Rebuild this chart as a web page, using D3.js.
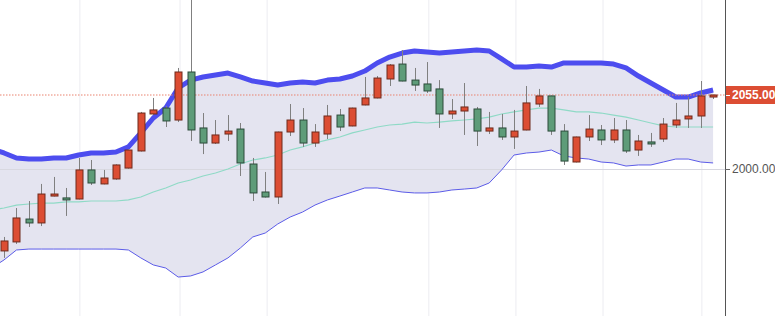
<!DOCTYPE html>
<html>
<head>
<meta charset="utf-8">
<script src="https://cdn.jsdelivr.net/npm/d3@7/dist/d3.min.js"></script>
<style>
html,body{margin:0;padding:0;background:#fff;overflow:hidden;}
svg{display:block;}
</style>
</head>
<body>
<svg id="chart" width="775" height="316"></svg>
<script>
// ---- data ----
const openV  = [1939.1,1945.8,1962.8,1959.9,1979.9,1978.5,1977.7,1999.3,1988.9,1992.6,2000.7,2013.4,2040.9,2045.3,2036.4,2072.1,2030.5,2019.3,2026.0,2029.7,2003.7,1982.9,1979.2,2027.5,2036.4,2019.3,2026.0,2040.1,2032.0,2047.6,2052.8,2066.9,2078.0,2066.1,2063.2,2059.5,2040.9,2043.1,2044.6,2028.2,2030.5,2023.8,2029.0,2048.3,2054.3,2028.2,2005.2,2023.8,2029.0,2021.6,2029.0,2014.1,2020.1,2022.3,2032.7,2037.2,2039.4,2053.5];
const highV  = [1949.5,1971.0,1976.2,1988.9,1994.1,1985.9,2008.2,2006.7,1999.3,2003.5,2014.5,2042.4,2052.8,2046.8,2075.1,2135.0,2041.6,2036.4,2040.1,2034.2,2008.2,1997.8,2027.8,2048.3,2045.3,2033.4,2047.6,2044.6,2045.6,2068.4,2069.1,2078.0,2088.4,2075.1,2079.5,2066.1,2052.0,2063.9,2046.1,2042.4,2040.9,2043.9,2061.7,2059.5,2054.6,2033.4,2024.1,2040.1,2032.7,2037.9,2036.4,2025.3,2026.8,2037.9,2049.1,2053.5,2065.4,2055.3];
const lowV   = [1933.9,1944.3,1956.9,1957.6,1979.6,1965.1,1977.4,1988.1,1988.6,1992.0,2000.3,2013.0,2040.1,2031.2,2034.9,2020.8,2011.1,2018.6,2020.8,1994.8,1976.2,1978.8,1974.0,2024.5,2016.4,2016.4,2022.3,2028.2,2031.7,2047.3,2052.5,2061.7,2065.1,2058.0,2056.5,2030.5,2037.2,2025.3,2017.1,2026.0,2021.6,2014.9,2028.7,2046.1,2025.3,2003.0,2004.9,2020.8,2017.8,2019.3,2011.9,2009.7,2016.4,2020.1,2030.5,2030.5,2030.5,2052.0];
const closeV = [1946.5,1963.6,1959.9,1981.4,1981.4,1977.0,1999.3,1989.6,1993.3,2003.0,2014.1,2041.6,2043.9,2035.7,2072.1,2029.0,2019.3,2025.3,2028.2,2004.5,1982.2,1979.2,2027.5,2036.4,2019.3,2027.5,2039.4,2031.2,2045.3,2052.8,2067.6,2077.3,2065.4,2062.4,2058.0,2040.9,2043.1,2046.1,2028.2,2030.5,2023.8,2028.2,2049.1,2054.3,2028.2,2005.9,2023.8,2029.7,2021.6,2029.0,2013.4,2020.8,2018.6,2033.4,2036.4,2039.4,2054.3,2055.0];

// Bollinger bands, first value belongs to the bar before the first visible candle
const bandUpper  = [2014.9,2011.9,2008.2,2007.4,2007.4,2008.2,2008.2,2010.4,2011.9,2011.9,2012.6,2016.4,2026.8,2037.9,2045.3,2060.2,2066.1,2068.4,2069.9,2071.3,2068.4,2065.4,2063.9,2062.4,2063.9,2064.7,2063.9,2066.1,2066.9,2069.1,2072.8,2078.8,2083.2,2086.2,2087.7,2087.0,2086.2,2087.0,2087.7,2088.4,2087.7,2081.8,2075.8,2075.8,2076.6,2075.8,2078.8,2078.8,2078.8,2078.8,2078.0,2075.1,2069.1,2063.9,2058.7,2053.5,2053.5,2056.5,2058.7];
const bandMiddle = [1969.5,1971.0,1973.2,1974.0,1974.7,1974.7,1975.5,1975.5,1976.2,1976.2,1976.2,1977.0,1979.2,1982.9,1985.9,1989.6,1991.8,1994.8,1997.0,2000.0,2003.7,2006.7,2008.2,2010.4,2014.1,2016.4,2019.3,2021.6,2023.8,2026.8,2029.0,2031.2,2032.7,2033.4,2034.9,2034.2,2034.9,2035.7,2036.4,2037.2,2038.6,2040.9,2042.4,2043.9,2045.3,2045.3,2043.9,2042.4,2042.4,2041.6,2040.1,2038.6,2036.4,2034.2,2032.0,2031.2,2031.2,2031.2,2031.2];
const bandLower  = [1926.4,1932.4,1939.8,1940.5,1940.5,1940.5,1940.5,1940.5,1940.5,1940.5,1940.5,1939.8,1933.9,1928.7,1926.4,1919.7,1920.5,1923.5,1928.7,1933.9,1941.3,1949.5,1952.4,1959.1,1964.3,1968.0,1973.2,1977.0,1979.9,1982.9,1985.9,1985.9,1984.4,1982.9,1982.2,1982.2,1982.9,1984.4,1985.1,1985.9,1989.6,1999.3,2010.4,2011.9,2012.6,2014.1,2009.7,2008.2,2007.4,2005.2,2004.5,2002.2,2003.0,2003.0,2005.2,2007.4,2007.4,2005.2,2004.5];

const yTicks = [2000];
const lastPrice = 2055;
const gridTicks = [6.1, 14.15, 21.15, 34.15, 41.15, 48.15, 56.1];

// ---- build ----
const candles = openV.map((o, i) => ({i, o, h: highV[i], l: lowV[i], c: closeV[i]}));
const bands = bandUpper.map((u, k) => ({i: k - 1, u, m: bandMiddle[k], l: bandLower[k]}));

const W = 775, H = 316, plotRight = 725;
const x = d3.scaleLinear().domain([0, 57]).range([4, 713.1]);
const y = d3.scaleLinear().domain([2000, 2055]).range([169, 95]);

const svg = d3.select('#chart');
svg.append('defs').append('clipPath').attr('id', 'plotclip')
  .append('rect').attr('x', 0).attr('y', 0).attr('width', plotRight).attr('height', H);

const plot = svg.append('g').attr('clip-path', 'url(#plotclip)');

// vertical grid
plot.append('g').selectAll('line').data(gridTicks).join('line')
  .attr('x1', d => x(d)).attr('x2', d => x(d))
  .attr('y1', 0).attr('y2', H)
  .attr('stroke', '#ececf1').attr('stroke-width', 1);

// band fill
plot.append('path').datum(bands)
  .attr('d', d3.area().x(d => x(d.i)).y0(d => y(d.l)).y1(d => y(d.u)))
  .attr('fill', '#e4e4f0');

// horizontal grid
plot.append('g').selectAll('line').data(yTicks).join('line')
  .attr('x1', 0).attr('x2', plotRight)
  .attr('y1', d => Math.round(y(d)) + 0.5).attr('y2', d => Math.round(y(d)) + 0.5)
  .attr('stroke', '#d8d8e0').attr('stroke-width', 1);

// middle band
plot.append('path').datum(bands)
  .attr('d', d3.line().x(d => x(d.i)).y(d => y(d.m)))
  .attr('fill', 'none').attr('stroke', '#8fdac6').attr('stroke-width', 1.2);

// lower band
plot.append('path').datum(bands)
  .attr('d', d3.line().x(d => x(d.i)).y(d => y(d.l)))
  .attr('fill', 'none').attr('stroke', '#5c5ce8').attr('stroke-width', 1);

// upper band (thick)
plot.append('path').datum(bands)
  .attr('d', d3.line().x(d => x(d.i)).y(d => y(d.u)))
  .attr('fill', 'none').attr('stroke', '#4d4def').attr('stroke-width', 5)
  .attr('stroke-linejoin', 'round').attr('stroke-linecap', 'butt');

// last price dotted line
plot.append('line')
  .attr('x1', 0).attr('x2', plotRight)
  .attr('y1', y(lastPrice)).attr('y2', y(lastPrice))
  .attr('stroke', '#e9826f').attr('stroke-width', 1).attr('stroke-dasharray', '1.5,1.5');

// candles
const bw = 7;
const cg = plot.append('g').selectAll('g').data(candles).join('g');
cg.append('line')
  .attr('x1', d => Math.round(x(d.i)) + 0.5).attr('x2', d => Math.round(x(d.i)) + 0.5)
  .attr('y1', d => y(d.h)).attr('y2', d => y(d.l))
  .attr('stroke', '#808080').attr('stroke-width', 1);
cg.append('rect')
  .attr('x', d => Math.round(x(d.i)) + 0.5 - bw / 2)
  .attr('y', d => y(Math.max(d.o, d.c)))
  .attr('width', bw)
  .attr('height', d => Math.max(1.5, Math.abs(y(d.o) - y(d.c))))
  .attr('fill', d => d.c >= d.o ? '#dc4d33' : '#5e9c79')
  .attr('stroke', d => d.c >= d.o ? '#6e2a1c' : '#2c4b3a')
  .attr('stroke-width', 1);

// y axis on the right
const ax = svg.append('g');
ax.append('line').attr('x1', plotRight + 0.5).attr('x2', plotRight + 0.5)
  .attr('y1', 0).attr('y2', H).attr('stroke', '#555').attr('stroke-width', 1);

const fontFam = '"Liberation Sans", Arial, Helvetica, sans-serif';
const tk = ax.selectAll('g.tick').data(yTicks).join('g').attr('class', 'tick');
tk.append('line')
  .attr('x1', plotRight).attr('x2', plotRight + 5)
  .attr('y1', d => Math.round(y(d)) + 0.5).attr('y2', d => Math.round(y(d)) + 0.5)
  .attr('stroke', '#666');
tk.append('text')
  .attr('x', plotRight + 7).attr('y', d => y(d))
  .attr('dy', '0.35em')
  .attr('font-family', fontFam).attr('font-size', 12)
  .attr('fill', '#555')
  .text(d => d3.format('.2f')(d));

// last price label
const lp = ax.append('g');
lp.append('rect')
  .attr('x', plotRight + 1).attr('y', y(lastPrice) - 9)
  .attr('width', W - plotRight).attr('height', 18)
  .attr('fill', '#dc4d33');
lp.append('line')
  .attr('x1', plotRight + 1).attr('x2', plotRight + 5)
  .attr('y1', Math.round(y(lastPrice)) + 0.5).attr('y2', Math.round(y(lastPrice)) + 0.5)
  .attr('stroke', '#fff');
lp.append('text')
  .attr('x', plotRight + 7).attr('y', y(lastPrice))
  .attr('dy', '0.35em')
  .attr('font-family', fontFam).attr('font-size', 12).attr('font-weight', 'bold')
  .attr('fill', '#fff')
  .text(d3.format('.2f')(lastPrice));
</script>
</body>
</html>
